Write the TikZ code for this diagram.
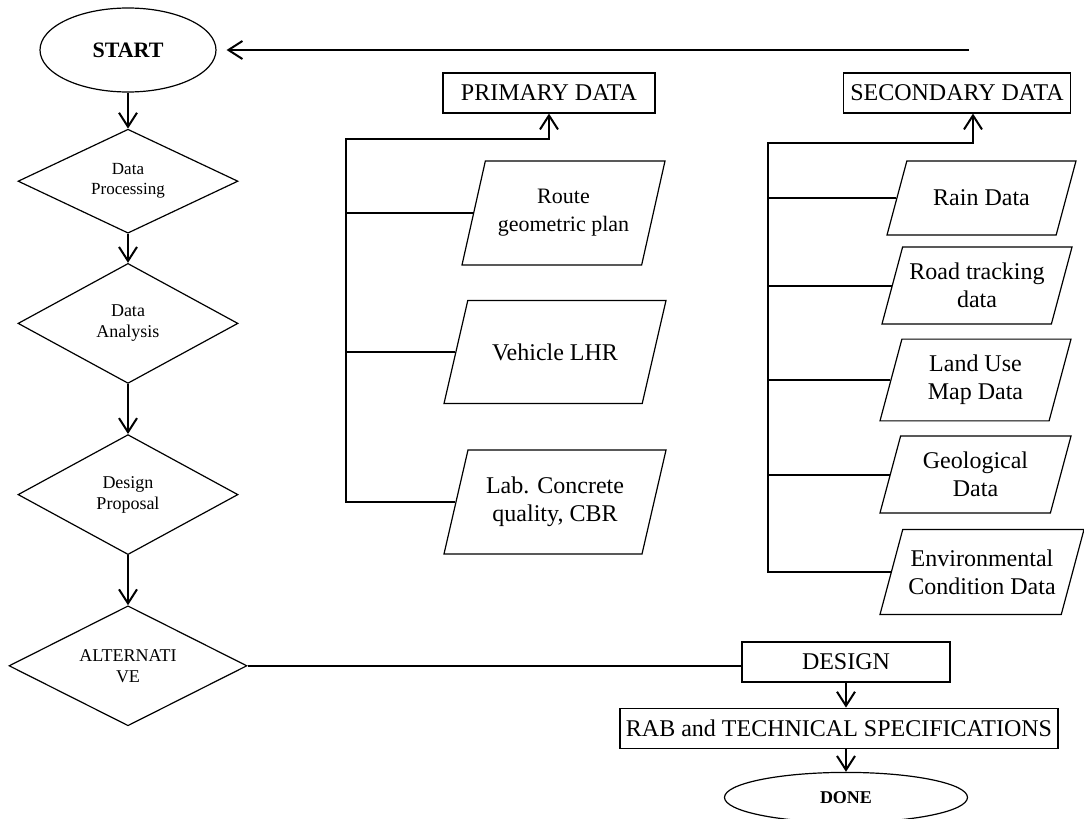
\documentclass[tikz,border=0pt]{standalone}
\usepackage{fontspec}
\setmainfont{Liberation Serif}
\usetikzlibrary{arrows.meta,positioning,shapes.geometric}

\begin{document}
\begin{tikzpicture}[->,>={Straight Barb[length=7pt,width=9pt]},semithick,
                    x=1pt,y=1pt,node distance=18pt]
  \tikzstyle{term}=[ellipse,draw,->,minimum width=88pt,minimum height=42pt,inner sep=0pt,
                    font=\fontsize{11}{13}\selectfont\bfseries]
  \tikzstyle{decision}=[diamond,aspect=2,draw,minimum width=110pt,minimum height=60pt,inner sep=0pt,
                        align=center,font=\fontsize{9}{10.5}\selectfont]
  \tikzstyle{box}=[rectangle,draw,minimum height=20pt,inner sep=1pt,font=\fontsize{12}{14}\selectfont]
  \tikzstyle{io}=[trapezium,trapezium left angle=77,trapezium right angle=103,
                  trapezium stretches body=true,draw,align=center,inner xsep=0pt,inner ysep=13.5pt,
                  font=\fontsize{12}{14}\selectfont]
  \tikzstyle{iosec}=[io,trapezium left angle=75,trapezium right angle=105,inner ysep=8pt]
  \tikzstyle{link}=[line width=1pt]

  \useasboundingbox (0,0) rectangle (542,-409.5);

  \node[term]                         (start) at (64,-25)     {START};
  \node[decision,minimum height=52pt,font=\fontsize{8.5}{10}\selectfont]
                                      (proc)  [below=of start] {Data\\Processing};
  \node[decision]                     (anal)  [below=14.5pt of proc] {Data\\Analysis};
  \node[decision]                     (prop)  [below=25pt of anal]   {Design\\Proposal};
  \node[decision,minimum width=119pt] (alt)   [below=25pt of prop]   {ALTERNATI\\VE};

  \node[box,minimum width=106pt]   (prim) at (274.5,-46.5) {PRIMARY DATA};
  \node[box,minimum width=113.5pt] (sec)  at (478.5,-46.5) {SECONDARY DATA};

  \node[io,minimum width=101.5pt,minimum height=52pt,font=\fontsize{11}{14}\selectfont]
        (route)   at (281.75,-106.5) {Route\\geometric plan};
  \node[io,minimum width=111pt,minimum height=51.5pt,inner ysep=21.5pt]
        (vehicle) at (277.5,-176) {Vehicle LHR};
  \node[io,minimum width=111pt,minimum height=51.5pt]  (lab) at (277.5,-251) {Lab. Concrete\\quality, CBR};

  \node[iosec,minimum width=94.5pt,minimum height=37pt,inner ysep=14.5pt]
        (rain) at (490.75,-99) {Rain Data};
  \node[iosec,minimum width=95pt,minimum height=37.5pt]   (road) at (488.5,-142.75) {Road tracking\\data};
  \node[iosec,minimum width=95.5pt,minimum height=39pt]   (land) at (487.75,-190)   {Land Use\\Map Data};
  \node[iosec,minimum width=95.5pt,minimum height=37.5pt] (geo)  at (487.75,-237.25) {Geological\\Data};
  \node[iosec,minimum width=102pt,minimum height=42.5pt,inner ysep=10pt]
        (env)  at (491,-286) {Environmental\\Condition Data};

  \node[box,minimum width=104pt]    (design) at (423,-331) {DESIGN};
  \node[box,minimum width=219pt]    (rab)    [below=12.5pt of design,xshift=-3.5pt] {RAB and TECHNICAL SPECIFICATIONS};
  \node[term,minimum width=121.5pt,minimum height=25pt,font=\fontsize{9}{11}\selectfont\bfseries]
        (done) [below=11.5pt of rab,xshift=3.5pt] {DONE};

  \coordinate (back) at (484.5,-25);
  \coordinate (pbus) at (173,-69.5);
  \coordinate (sbus) at (384,-71.5);

  \path[link] (start) edge (proc)
        (proc)  edge (anal)
        (anal)  edge (prop)
        (prop)  edge (alt)
        (alt.east) edge[-] (alt.east -| design.west)
        (design.south) edge (design.south |- rab.north)
        (rab.south -| done.north) edge (done.north)
        (back)  edge[shorten >=5pt] (start.east);

  \draw[link] (lab.west) -- (lab.west -| pbus) -- (pbus) -| (prim.south);
  \path[link,-] (route.west) edge (route.west -| pbus)
        (vehicle.west) edge (vehicle.west -| pbus);

  \draw[link] (env.west) -- (env.west -| sbus) -- (sbus) -| ([xshift=8pt]sec.south);
  \path[link,-] (rain.west) edge (rain.west -| sbus)
        (road.west) edge (road.west -| sbus)
        (land.west) edge (land.west -| sbus)
        (geo.west)  edge (geo.west -| sbus);
\end{tikzpicture}
\end{document}
